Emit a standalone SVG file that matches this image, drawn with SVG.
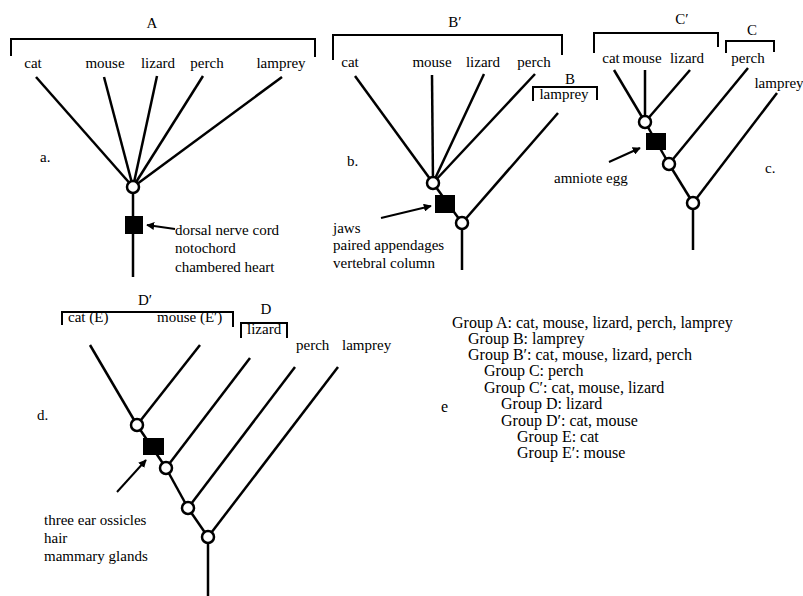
<svg xmlns="http://www.w3.org/2000/svg" width="803" height="596" viewBox="0 0 803 596">
<defs>
<style>
.br{fill:none;stroke:#000;stroke-width:2;}
.ln{fill:none;stroke:#000;stroke-width:2.5;stroke-linecap:butt;}
.nd{fill:#fff;stroke:#000;stroke-width:2.5;}
.sq{fill:#000;}
.ar{fill:none;stroke:#000;stroke-width:2;}
</style>
<marker id="ah" viewBox="0 0 10 10" refX="9" refY="5" markerWidth="4" markerHeight="4" orient="auto" markerUnits="strokeWidth">
<path d="M0,0 L10,5 L0,10 z" fill="#000"/>
</marker>
</defs>
<rect width="803" height="596" fill="#fff"/>

<g id="connectors">
<line class="ln" x1="36" y1="77" x2="133" y2="187"/>
<line class="ln" x1="104" y1="77" x2="133" y2="187"/>
<line class="ln" x1="157" y1="76" x2="133" y2="187"/>
<line class="ln" x1="203" y1="76" x2="133" y2="187"/>
<line class="ln" x1="282" y1="77" x2="133" y2="187"/>
<line class="ln" x1="133" y1="187" x2="133" y2="277"/>
<line class="ar" x1="175" y1="229" x2="147" y2="225" marker-end="url(#ah)"/>
<line class="ln" x1="355" y1="76" x2="433" y2="183"/>
<line class="ln" x1="432" y1="75" x2="433" y2="183"/>
<line class="ln" x1="484" y1="74" x2="433" y2="183"/>
<line class="ln" x1="535" y1="74" x2="433" y2="183"/>
<line class="ln" x1="433" y1="183" x2="462" y2="223"/>
<line class="ln" x1="558" y1="113" x2="462" y2="223"/>
<line class="ln" x1="462" y1="223" x2="462" y2="270"/>
<line class="ar" x1="381" y1="218" x2="431" y2="206" marker-end="url(#ah)"/>
<line class="ln" x1="614" y1="70" x2="645" y2="122"/>
<line class="ln" x1="645" y1="70" x2="645" y2="122"/>
<line class="ln" x1="690" y1="70" x2="645" y2="122"/>
<line class="ln" x1="645" y1="122" x2="669" y2="164"/>
<line class="ln" x1="748" y1="68" x2="669" y2="164"/>
<line class="ln" x1="669" y1="164" x2="693" y2="203"/>
<line class="ln" x1="777" y1="93" x2="693" y2="203"/>
<line class="ln" x1="693" y1="203" x2="693" y2="250"/>
<line class="ar" x1="609" y1="162" x2="640" y2="148" marker-end="url(#ah)"/>
<line class="ln" x1="90" y1="345" x2="137" y2="425"/>
<line class="ln" x1="200" y1="345" x2="137" y2="425"/>
<line class="ln" x1="137" y1="425" x2="166" y2="468"/>
<line class="ln" x1="250" y1="358" x2="166" y2="468"/>
<line class="ln" x1="166" y1="468" x2="188" y2="508"/>
<line class="ln" x1="295" y1="367" x2="188" y2="508"/>
<line class="ln" x1="188" y1="508" x2="208" y2="537"/>
<line class="ln" x1="338" y1="367" x2="208" y2="537"/>
<line class="ln" x1="208" y1="537" x2="208" y2="596"/>
<line class="ar" x1="117" y1="492" x2="146" y2="460" marker-end="url(#ah)"/>
</g>

<g id="panel-a" font-family="Liberation Serif" font-size="15">
<path class="br" d="M11,56 V39 H315 V57"/>
<text x="152" y="28" text-anchor="middle">A</text>
<text x="33" y="68" text-anchor="middle">cat</text>
<text x="105" y="68" text-anchor="middle">mouse</text>
<text x="158" y="68" text-anchor="middle">lizard</text>
<text x="207" y="68" text-anchor="middle">perch</text>
<text x="281" y="68" text-anchor="middle">lamprey</text>
<text x="40" y="162">a.</text>
<g id="a-node1"><circle class="nd" cx="133" cy="187" r="6"/></g>
<g id="a-char"><rect class="sq" x="125" y="216" width="18" height="18"/></g>
<text x="175" y="235">dorsal nerve cord</text>
<text x="175" y="253">notochord</text>
<text x="175" y="272">chambered heart</text>
</g>

<g id="panel-b" font-family="Liberation Serif" font-size="15">
<path class="br" d="M333,60 V35 H562 V55"/>
<text x="455" y="27" text-anchor="middle">B′</text>
<text x="350" y="67" text-anchor="middle">cat</text>
<text x="432" y="67" text-anchor="middle">mouse</text>
<text x="483" y="67" text-anchor="middle">lizard</text>
<text x="534" y="67" text-anchor="middle">perch</text>
<path class="br" d="M533,101 V87 H597 V100"/>
<text x="570" y="84" text-anchor="middle">B</text>
<text x="564" y="99" text-anchor="middle">lamprey</text>
<text x="347" y="166">b.</text>
<g id="b-node1"><circle class="nd" cx="433" cy="183" r="6"/></g>
<g id="b-char"><rect class="sq" x="435" y="195" width="20" height="18"/></g>
<g id="b-node2"><circle class="nd" cx="462" cy="223" r="6"/></g>
<text x="333" y="233">jaws</text>
<text x="333" y="250">paired appendages</text>
<text x="333" y="268">vertebral column</text>
</g>

<g id="panel-c" font-family="Liberation Serif" font-size="15">
<path class="br" d="M594,53 V33 H718 V47"/>
<text x="682" y="24" text-anchor="middle">C′</text>
<path class="br" d="M726,53 V41 H774 V52"/>
<text x="752" y="35" text-anchor="middle">C</text>
<text x="611" y="63" text-anchor="middle">cat</text>
<text x="642" y="63" text-anchor="middle">mouse</text>
<text x="687" y="63" text-anchor="middle">lizard</text>
<text x="748" y="63" text-anchor="middle">perch</text>
<text x="779" y="88" text-anchor="middle">lamprey</text>
<text x="765" y="173">c.</text>
<g id="c-node1"><circle class="nd" cx="645" cy="122" r="6"/></g>
<g id="c-char"><rect class="sq" x="646" y="133" width="20" height="17"/></g>
<g id="c-node2"><circle class="nd" cx="669" cy="164" r="6"/></g>
<g id="c-node3"><circle class="nd" cx="693" cy="203" r="6"/></g>
<text x="554" y="183">amniote egg</text>
</g>

<g id="panel-d" font-family="Liberation Serif" font-size="15">
<path class="br" d="M62,325 V312 H233 V327"/>
<text x="145" y="305" text-anchor="middle">D′</text>
<text x="68" y="322">cat (E)</text>
<text x="157" y="322">mouse (E′)</text>
<path class="br" d="M241,338 V323 H287 V338"/>
<text x="266" y="314" text-anchor="middle">D</text>
<text x="247" y="334">lizard</text>
<text x="296" y="350">perch</text>
<text x="342" y="350">lamprey</text>
<text x="37" y="420">d.</text>
<g id="d-node1"><circle class="nd" cx="137" cy="425" r="6"/></g>
<g id="d-char"><rect class="sq" x="143" y="438" width="21" height="17"/></g>
<g id="d-node2"><circle class="nd" cx="166" cy="468" r="6"/></g>
<g id="d-node3"><circle class="nd" cx="188" cy="508" r="6"/></g>
<g id="d-node4"><circle class="nd" cx="208" cy="537" r="6"/></g>
<text x="44" y="525">three ear ossicles</text>
<text x="44" y="543">hair</text>
<text x="44" y="561">mammary glands</text>
</g>

<g id="panel-e" font-family="Liberation Serif" font-size="16">
<text x="441" y="412">e</text>
<text x="452" y="328">Group A: cat, mouse, lizard, perch, lamprey</text>
<text x="468" y="344">Group B: lamprey</text>
<text x="468" y="360">Group B′: cat, mouse, lizard, perch</text>
<text x="484" y="376">Group C: perch</text>
<text x="484" y="393">Group C′: cat, mouse, lizard</text>
<text x="501" y="409">Group D: lizard</text>
<text x="501" y="426">Group D′: cat, mouse</text>
<text x="517" y="442">Group E: cat</text>
<text x="517" y="458">Group E′: mouse</text>
</g>
</svg>
